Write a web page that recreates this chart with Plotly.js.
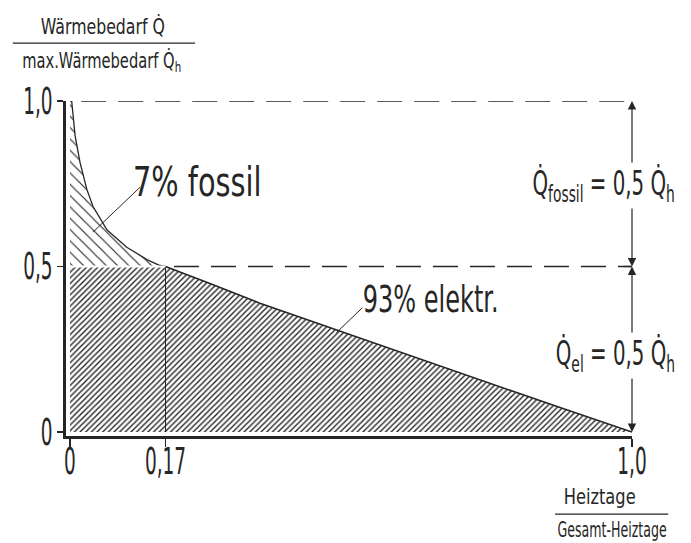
<!DOCTYPE html>
<html>
<head>
<meta charset="utf-8">
<script src="https://cdn.plot.ly/plotly-3.0.1.min.js"></script>
<style>html,body{margin:0;padding:0;background:#fff;}#chart{width:691px;height:543px;}</style>
</head>
<body>
<div id="chart"></div>
<script>
// Load-duration curve
const fossilX = [0.0, 0.003, 0.009, 0.018, 0.030, 0.041, 0.066, 0.101, 0.137, 0.160, 0.17];
const fossilY = [1.0, 1.0, 0.896, 0.813, 0.733, 0.681, 0.610, 0.558, 0.521, 0.503, 0.5];
const elX = [0.17, 0.249, 0.338, 0.427, 0.516, 0.605, 0.694, 0.783, 0.872, 0.961, 1.0];
const elY = [0.5, 0.449, 0.389, 0.336, 0.283, 0.230, 0.178, 0.126, 0.074, 0.023, 0.0];
const splitX = 0.17;
const splitY = 0.5;
const xTickVals = [0, 0.17, 1.0];
const xTickText = ['0', '0,17', '1,0'];
const yTickVals = [0, 0.5, 1.0];
const yTickText = ['0', '0,5', '1,0'];
const fossilLabel = '7% fossil';
const elLabel = '93% elektr.';
const fossilDim = 'Q\u0307<sub>fossil</sub> = 0,5 Q\u0307<sub>h</sub>';
const elDim = 'Q\u0307<sub>el</sub> = 0,5 Q\u0307<sub>h</sub>';
const yTitleTop = 'Wärmebedarf Q\u0307';
const yTitleBottom = 'max.Wärmebedarf Q\u0307<sub>h</sub>';
const xTitleTop = 'Heiztage';
const xTitleBottom = 'Gesamt-Heiztage';

const ink = '#262626';
const FONT = '"DejaVu Sans", sans-serif';

const fX = fossilX.concat([0]);
const fY = fossilY.concat([splitY]);
const eX = [0].concat(elX).concat([0]);
const eY = [splitY].concat(elY).concat([0]);

const traces = [
  {x: fX, y: fY, mode: 'lines', fill: 'toself', line: {width: 0, color: ink},
   fillcolor: 'white',
   fillpattern: {shape: '\\', fgcolor: ink, bgcolor: 'white', size: 8, solidity: 0.14},
   hoverinfo: 'skip'},
  {x: eX, y: eY, mode: 'lines', fill: 'toself', line: {width: 0, color: ink},
   fillcolor: 'white',
   fillpattern: {shape: '/', fgcolor: ink, bgcolor: 'white', size: 4, solidity: 0.35},
   hoverinfo: 'skip'},
  {x: fossilX, y: fossilY, mode: 'lines', line: {color: ink, width: 1.3}, hoverinfo: 'skip'},
  {x: elX, y: elY, mode: 'lines', line: {color: ink, width: 1.6}, hoverinfo: 'skip'},
  {x: [splitX, splitX], y: [0, splitY], mode: 'lines', line: {color: ink, width: 1}, hoverinfo: 'skip'},
  {x: [0, splitX], y: [splitY, splitY], mode: 'lines', line: {color: 'white', width: 2}, hoverinfo: 'skip'}
];

const shapes = [
  {type: 'line', xref: 'x', yref: 'y', x0: 0.02, x1: 1.0, y0: 1.0, y1: 1.0,
   line: {color: ink, width: 1.3, dash: '25px,12px'}},
  {type: 'line', xref: 'x', yref: 'y', x0: 0.185, x1: 1.0, y0: 0.5, y1: 0.5,
   line: {color: ink, width: 1.3, dash: '25px,12px'}},
  {type: 'line', xref: 'x', yref: 'y', x0: 0.125, y0: 0.74, x1: 0.041, y1: 0.604, line: {color: ink, width: 1}},
  {type: 'line', xref: 'x', yref: 'y', x0: 0.52, y0: 0.375, x1: 0.474, y1: 0.30, line: {color: ink, width: 1}},
  {type: 'line', xref: 'x', yref: 'y', x0: 0.985, x1: 1.015, y0: 0.5, y1: 0.5, line: {color: ink, width: 1.3}},
  {type: 'line', xref: 'paper', yref: 'paper', x0: -0.094, x1: 0.228, y0: 1.173, y1: 1.173, line: {color: ink, width: 1.3}},
  {type: 'line', xref: 'paper', yref: 'paper', x0: 0.864, x1: 1.064, y0: -0.233, y1: -0.233, line: {color: ink, width: 1.3}}
];

function arrow(yTip, yTail) {
  return {x: 1.0, y: yTip, ax: 1.0, ay: yTail, xref: 'x', yref: 'y', axref: 'x', ayref: 'y',
    text: '', showarrow: true, arrowhead: 2, arrowsize: 1.4, arrowwidth: 1.2, arrowcolor: ink};
}
function label(x, y, text, size, weight, ref) {
  return {x: x, y: y, xref: ref ? 'paper' : 'x', yref: ref ? 'paper' : 'y', text: text,
    showarrow: false, xanchor: 'center', yanchor: 'middle',
    font: {family: FONT, size: size, weight: weight, color: ink}};
}

const annotations = [
  arrow(1.0, 0.75), arrow(0.5, 0.75), arrow(0.5, 0.25), arrow(0.0, 0.25),
  label(0.226, 0.755, fossilLabel, 40, 'normal', false),
  label(0.641, 0.399, elLabel, 37, 'normal', false),
  Object.assign(label(0.95, 0.745, fossilDim, 33, 'normal', false), {bgcolor: 'white'}),
  Object.assign(label(0.971, 0.232, elDim, 33, 'normal', false), {bgcolor: 'white'}),
  label(0.066, 1.221, yTitleTop, 21, 'normal', true),
  label(0.062, 1.119, yTitleBottom, 21, 'normal', true),
  label(0.943, -0.182, xTitleTop, 22, 'normal', true),
  label(0.965, -0.281, xTitleBottom, 21, 'normal', true)
];
// horizontal squeeze to imitate the narrow drawing lettering
const annSqueeze = [1, 1, 1, 1, 0.72, 0.65, 0.6, 0.6, 0.75, 0.7, 0.74, 0.6];

const layout = {
  width: 691, height: 543,
  margin: {l: 66, r: 59, t: 101, b: 107},
  paper_bgcolor: 'white', plot_bgcolor: 'white',
  showlegend: false,
  xaxis: {range: [-0.0071, 1.0], showgrid: false, zeroline: false, showline: true,
    linecolor: ink, linewidth: 3, ticks: 'outside', ticklen: 8, tickwidth: 1.3, tickcolor: ink,
    ticklabelstandoff: -17,
    tickvals: xTickVals, ticktext: xTickText, tickfont: {family: FONT, size: 37, color: ink}},
  yaxis: {range: [-0.0121, 1.0], showgrid: false, zeroline: false, showline: true,
    linecolor: ink, linewidth: 3, ticks: 'outside', ticklen: 6, tickwidth: 1.3, tickcolor: ink,
    ticklabelstandoff: -3,
    tickvals: yTickVals, ticktext: yTickText, tickfont: {family: FONT, size: 37, color: ink}},
  shapes: shapes,
  annotations: annotations
};

function squeeze(el, s, mode) {
  const bb = el.getBBox();
  let px = bb.x + bb.width / 2;
  if (mode === 'end') px = bb.x + bb.width;
  const t = el.getAttribute('transform') || '';
  el.setAttribute('transform', t + ' translate(' + px + ',0) scale(' + s + ',1) translate(' + (-px) + ',0)');
}

Plotly.newPlot('chart', traces, layout, {displayModeBar: false, staticPlot: true}).then(function (gd) {
  gd.querySelectorAll('g.xtick text').forEach(function (el) { squeeze(el, 0.5, 'middle'); });
  gd.querySelectorAll('g.ytick text').forEach(function (el) { squeeze(el, 0.5, 'end'); });
  gd.querySelectorAll('g.annotation').forEach(function (g) {
    const i = +g.getAttribute('data-index');
    const el = g.querySelector('text.annotation-text');
    if (el && annSqueeze[i] !== 1 && el.textContent.length) squeeze(el, annSqueeze[i], 'middle');
  });
});
</script>
</body>
</html>
